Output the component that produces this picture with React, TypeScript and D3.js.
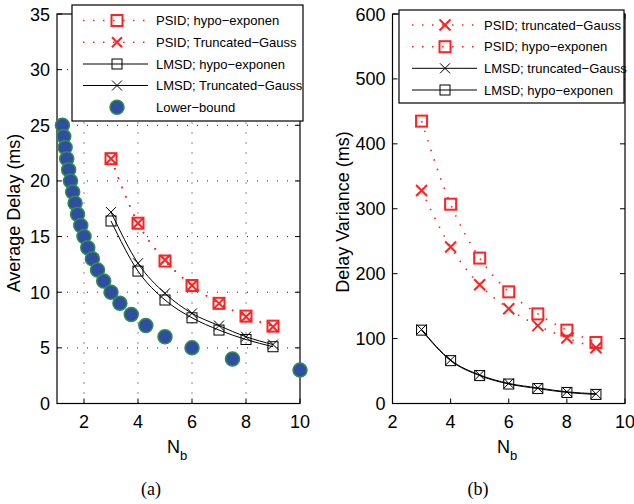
import React from "react";
import * as d3 from "d3";

// N_b values for the PSID / LMSD curves
const nb = [3, 4, 5, 6, 7, 8, 9];

// (a) average delay (ms)
const delayPsidHypo = [22.0, 16.2, 12.8, 10.6, 9.0, 7.85, 6.95];
const delayPsidGauss = [22.0, 16.2, 12.9, 10.6, 9.0, 7.8, 6.9];
const delayLmsdHypo = [16.4, 11.9, 9.3, 7.7, 6.6, 5.75, 5.1];
const delayLmsdGauss = [17.2, 12.6, 9.9, 8.1, 7.0, 6.0, 5.3];
const lbNb = [1.2, 1.25, 1.3, 1.36, 1.43, 1.5, 1.58, 1.67, 1.76, 1.88, 2, 2.14, 2.31, 2.5, 2.73, 3, 3.33, 3.75, 4.29, 5, 6, 7.5, 10];
const lbDelay = [25, 24, 23, 22, 21, 20, 19, 18, 17, 16, 15, 14, 13, 12, 11, 10, 9, 8, 7, 6, 5, 4, 3];

// (b) delay variance (ms)
const varPsidGauss = [328, 241, 183, 146, 120, 101, 86];
const varPsidHypo = [435, 307, 224, 172, 138, 113, 94];
const varLmsdGauss = [114, 67, 44, 31, 24, 18, 15];
const varLmsdHypo = [113, 66, 43, 30, 23, 17, 14];

const ticksAX = [2, 4, 6, 8, 10];
const ticksAY = [0, 5, 10, 15, 20, 25, 30, 35];
const ticksBX = [2, 4, 6, 8, 10];
const ticksBY = [0, 100, 200, 300, 400, 500, 600];

const legendA = ["PSID; hypo\u2212exponen", "PSID; Truncated\u2212Gauss", "LMSD; hypo\u2212exponen", "LMSD; Truncated\u2212Gauss", "Lower\u2212bound"];
const legendB = ["PSID; truncated\u2212Gauss", "PSID; hypo\u2212exponen", "LMSD; truncated\u2212Gauss", "LMSD; hypo\u2212exponen"];

const RED = "#f22";
const FONT = "Liberation Sans, Arial, sans-serif";

const Square = ({ x, y, s, color, w }) => (
  <rect x={x - s / 2} y={y - s / 2} width={s} height={s} fill="none" stroke={color} strokeWidth={w} />
);
const Cross = ({ x, y, s, color, w }) => (
  <path d={`M${x - s / 2},${y - s / 2}L${x + s / 2},${y + s / 2}M${x - s / 2},${y + s / 2}L${x + s / 2},${y - s / 2}`} stroke={color} strokeWidth={w} fill="none" />
);

const Frame = ({ x, y, xt, yt, grid, tickFmt }) => {
  const [x0, x1] = x.range();
  const [y0, y1] = y.range();
  const t = 5;
  return (
    <g>
      {grid && (
        <g stroke="#222" strokeWidth={1} strokeDasharray="1 9">
          {xt.filter((v) => x(v) < x1 - 1).map((v) => (
            <line key={"gx" + v} x1={x(v)} x2={x(v)} y1={y0} y2={y1} />
          ))}
          {yt.filter((v) => y(v) < y0 - 1 && y(v) > y1 + 1).map((v) => (
            <line key={"gy" + v} x1={x0} x2={x1} y1={y(v)} y2={y(v)} />
          ))}
        </g>
      )}
      <rect x={x0} y={y1} width={x1 - x0} height={y0 - y1} fill="none" stroke="#000" strokeWidth={1.2} />
      <g stroke="#000" strokeWidth={1}>
        {xt.map((v) => (
          <g key={"tx" + v}>
            <line x1={x(v)} x2={x(v)} y1={y0} y2={y0 - t} />
            <line x1={x(v)} x2={x(v)} y1={y1} y2={y1 + t} />
          </g>
        ))}
        {yt.map((v) => (
          <g key={"ty" + v}>
            <line x1={x0} x2={x0 + t} y1={y(v)} y2={y(v)} />
            <line x1={x1} x2={x1 - t} y1={y(v)} y2={y(v)} />
          </g>
        ))}
      </g>
      <g fontFamily={FONT} fontSize={18} fill="#000">
        {xt.map((v) => (
          <text key={"lx" + v} x={x(v)} y={428} textAnchor="middle">{v}</text>
        ))}
        {yt.map((v) => (
          <text key={"ly" + v} x={x0 - 7} y={y(v) + 6.5} textAnchor="end">{tickFmt ? tickFmt(v) : v}</text>
        ))}
      </g>
    </g>
  );
};

const App = () => {
  const xa = d3.scaleLinear().domain([1, 10]).range([57, 300]);
  const ya = d3.scaleLinear().domain([0, 35]).range([403.5, 14]);
  const xb = d3.scaleLinear().domain([2, 10]).range([392.5, 625]);
  const yb = d3.scaleLinear().domain([0, 600]).range([403.5, 14]);

  const lineA = d3.line().x((d) => xa(d[0])).y((d) => ya(d[1])).curve(d3.curveMonotoneX);
  const lineB = d3.line().x((d) => xb(d[0])).y((d) => yb(d[1])).curve(d3.curveMonotoneX);
  const pts = (vals) => nb.map((n, i) => [n, vals[i]]);

  const dotted = { stroke: RED, strokeWidth: 1.6, strokeDasharray: "1.5 8.5", fill: "none" };

  return (
    <svg width={634} height={504} style={{ position: "absolute", left: 0, top: 0, background: "#fff" }}>
      {/* ---------- (a) ---------- */}
      <Frame x={xa} y={ya} xt={ticksAX} yt={ticksAY} grid={true} />
      <path d={lineA(pts(delayPsidHypo))} {...dotted} />
      <path d={lineA(pts(delayPsidGauss))} {...dotted} />
      <path d={lineA(pts(delayLmsdHypo))} stroke="#000" strokeWidth={1} fill="none" />
      <path d={lineA(pts(delayLmsdGauss))} stroke="#000" strokeWidth={1} fill="none" />
      {nb.map((n, i) => (
        <g key={"am" + n}>
          <Square x={xa(n)} y={ya(delayPsidHypo[i])} s={11} color={RED} w={2} />
          <Cross x={xa(n)} y={ya(delayPsidGauss[i])} s={10} color={RED} w={2} />
          <Square x={xa(n)} y={ya(delayLmsdHypo[i])} s={10} color="#000" w={1} />
          <Cross x={xa(n)} y={ya(delayLmsdGauss[i])} s={10} color="#000" w={1} />
        </g>
      ))}
      {lbNb.map((n, i) => (
        <circle key={"lb" + i} cx={xa(n)} cy={ya(lbDelay[i])} r={7} fill="#2f4ea3" stroke="#2f8f45" strokeWidth={1.5} />
      ))}
      {/* legend (a) */}
      <g>
        <rect x={72} y={5} width={231} height={116} fill="#fff" stroke="#000" strokeWidth={1.2} />
        {legendA.map((lab, i) => {
          const yy = [20.5, 42.3, 64, 85.5, 107.3][i];
          return (
            <g key={"la" + i}>
              {i < 2 && <line x1={83} x2={148} y1={yy} y2={yy} {...dotted} />}
              {(i === 2 || i === 3) && <line x1={83} x2={148} y1={yy} y2={yy} stroke="#000" strokeWidth={1} />}
              {i === 0 && <Square x={117} y={yy} s={11} color={RED} w={2} />}
              {i === 1 && <Cross x={117} y={yy} s={10} color={RED} w={2} />}
              {i === 2 && <Square x={117} y={yy} s={10} color="#000" w={1} />}
              {i === 3 && <Cross x={117} y={yy} s={10} color="#000" w={1} />}
              {i === 4 && <circle cx={117} cy={yy} r={7} fill="#2f4ea3" stroke="#2f8f45" strokeWidth={1.5} />}
              <text x={156} y={yy + 4.5} fontFamily={FONT} fontSize={13}>{lab}</text>
            </g>
          );
        })}
      </g>
      <text transform="translate(20,213) rotate(-90)" textAnchor="middle" fontFamily={FONT} fontSize={18}>Average Delay (ms)</text>
      <text x={167} y={453} fontFamily={FONT} fontSize={18}>N<tspan fontSize={13} dy={7}>b</tspan></text>
      <text x={151} y={495} textAnchor="middle" fontFamily="Liberation Serif, Times New Roman, serif" fontSize={18}>(a)</text>

      {/* ---------- (b) ---------- */}
      <Frame x={xb} y={yb} xt={ticksBX} yt={ticksBY} grid={false} />
      <path d={lineB(pts(varPsidGauss))} {...dotted} />
      <path d={lineB(pts(varPsidHypo))} {...dotted} />
      <path d={lineB(pts(varLmsdGauss))} stroke="#000" strokeWidth={1} fill="none" />
      <path d={lineB(pts(varLmsdHypo))} stroke="#000" strokeWidth={1} fill="none" />
      {nb.map((n, i) => (
        <g key={"bm" + n}>
          <Cross x={xb(n)} y={yb(varPsidGauss[i])} s={11} color={RED} w={2} />
          <Square x={xb(n)} y={yb(varPsidHypo[i])} s={11} color={RED} w={2} />
          <Cross x={xb(n)} y={yb(varLmsdGauss[i])} s={10} color="#000" w={1} />
          <Square x={xb(n)} y={yb(varLmsdHypo[i])} s={10} color="#000" w={1} />
        </g>
      ))}
      {/* legend (b) */}
      <g>
        <rect x={399} y={10} width={225} height={93} fill="#fff" stroke="#000" strokeWidth={1.2} />
        {legendB.map((lab, i) => {
          const yy = [25, 46.7, 68.3, 90][i];
          return (
            <g key={"lb" + i}>
              {i < 2 ? (
                <line x1={412} x2={477} y1={yy} y2={yy} {...dotted} />
              ) : (
                <line x1={412} x2={477} y1={yy} y2={yy} stroke="#000" strokeWidth={1} />
              )}
              {i === 0 && <Cross x={445} y={yy} s={11} color={RED} w={2} />}
              {i === 1 && <Square x={445} y={yy} s={11} color={RED} w={2} />}
              {i === 2 && <Cross x={445} y={yy} s={10} color="#000" w={1} />}
              {i === 3 && <Square x={445} y={yy} s={10} color="#000" w={1} />}
              <text x={484} y={yy + 4.5} fontFamily={FONT} fontSize={13}>{lab}</text>
            </g>
          );
        })}
      </g>
      <text transform="translate(349,212) rotate(-90)" textAnchor="middle" fontFamily={FONT} fontSize={18}>Delay Variance (ms)</text>
      <text x={497} y={453} fontFamily={FONT} fontSize={18}>N<tspan fontSize={13} dy={7}>b</tspan></text>
      <text x={478} y={495} textAnchor="middle" fontFamily="Liberation Serif, Times New Roman, serif" fontSize={18}>(b)</text>
    </svg>
  );
};

export default App;
